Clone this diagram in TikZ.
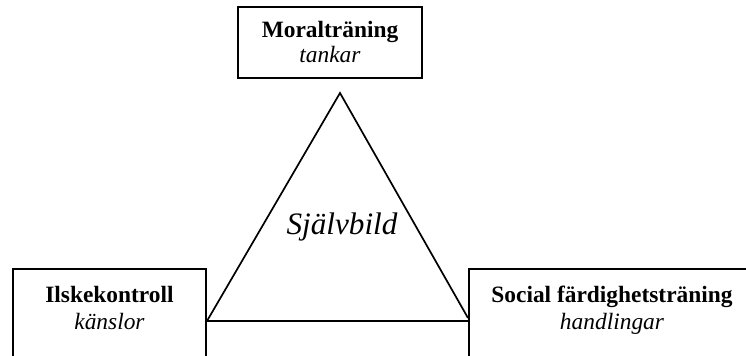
\documentclass[tikz,border=0pt]{standalone}
\usepackage{fontspec}
\setmainfont{Liberation Serif}
\begin{document}
\begin{tikzpicture}[x=0.5pt,y=0.5pt,
  box/.style={draw, line width=1pt, rectangle, inner sep=0pt},
  tri/.style={line width=0.85pt},
  headtxt/.style={font=\fontsize{11.7}{14}\selectfont\bfseries, anchor=base, inner sep=0pt},
  subtxt/.style={font=\fontsize{11.7}{14}\selectfont\itshape, anchor=base, inner sep=0pt},
  centtxt/.style={font=\fontsize{15.6}{18}\selectfont\itshape, anchor=base, inner sep=0pt}]
\useasboundingbox (0,0) rectangle (746,356);
\clip (0,0) rectangle (746,356);
% boxes
\node[box, minimum width=92pt, minimum height=35.5pt] (top) at (330,313.5) {};
\node[box, minimum width=96.5pt, minimum height=50.5pt] (left) at (109.5,36.5) {};
\node[box, minimum width=143pt, minimum height=50.5pt] (right) at (612,36.5) {};
% texts
\node[headtxt] (topA) at (330,318) {Moralträning};
\node[subtxt] (topB) at (330,293) {tankar};
\node[headtxt] (leftA) at (109.5,53) {Ilskekontroll};
\node[subtxt] (leftB) at (109.5,26) {känslor};
\node[headtxt] (rightA) at (612,53) {Social färdighetsträning};
\node[subtxt] (rightB) at (612,26) {handlingar};
\node[centtxt] (self) at (342,121) {Självbild};
% triangle
\coordinate (apex) at (340,263);
\coordinate (bl) at (left.east |- 0,35);
\coordinate (br) at (right.west |- 0,35);
\coordinate (sr) at (right.west |- 0,38);
\draw[tri, line join=miter] (bl) -- (apex) -- (sr);
\draw[tri] (bl) -- (br);
\end{tikzpicture}
\end{document}
